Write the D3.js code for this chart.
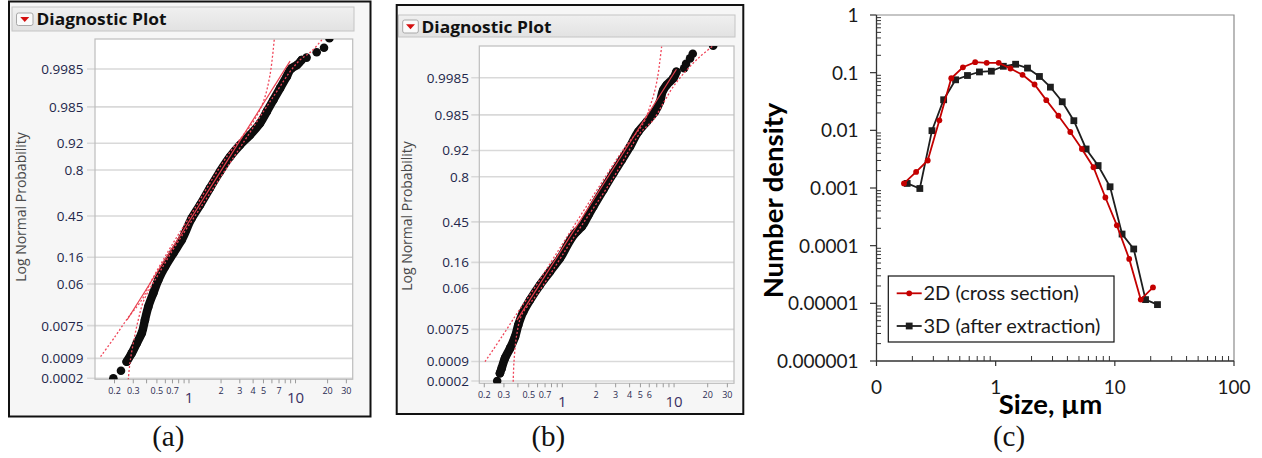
<!DOCTYPE html>
<html>
<head>
<meta charset="utf-8">
<script src="https://cdn.jsdelivr.net/npm/d3@7"></script>
<style>
  body { margin: 0; background: #fff; }
  svg { display: block; }
</style>
</head>
<body>
<svg id="fig" width="1262" height="458"></svg>
<script>
// ---------------- data ----------------
// probability-scale gridlines and size ticks shared by the two diagnostic plots
const probTicks = [0.0002, 0.0009, 0.0075, 0.06, 0.16, 0.45, 0.8, 0.92, 0.985, 0.9985];
const sizeMinorTicks = [0.2, 0.3, 0.4, 0.5, 0.6, 0.7, 0.8, 0.9, 1, 2, 3, 4, 5, 6, 7, 8, 9, 10, 20, 30];
const sizeLabelsA = [0.2, 0.3, 0.5, 0.7, 2, 3, 4, 5, 7, 20, 30];
const sizeLabelsB = [0.2, 0.3, 0.5, 0.7, 2, 3, 4, 5, 6, 20, 30];
const sizeDecadeLabels = [1, 10];

// (a) ordered particle sizes and their plotting probabilities
const sizeA = [0.195, 0.230, 0.260, 0.290, 0.323, 0.360, 0.386, 0.415, 0.462, 0.515, 0.596, 0.713, 0.854,
               1.06, 1.27, 1.57, 1.95, 2.43, 3.01, 3.74, 4.64, 5.37, 6.19, 7.15, 8.26, 9.2, 10.3, 11.4,
               12.7, 15.8, 18.5, 20.8];
const probA = [0.0002, 0.00036, 0.00071, 0.00129, 0.00252, 0.00476, 0.0104, 0.021, 0.040, 0.0705, 0.1166,
               0.1814, 0.2643, 0.4313, 0.5426, 0.6765, 0.790, 0.8693, 0.9145, 0.9429, 0.9661, 0.9808,
               0.98973, 0.9948, 0.99749, 0.99857, 0.99886, 0.99920, 0.99933, 0.99955, 0.99968, 0.99985];
// (a) lognormal fit and its confidence limits
const fitSizeA = [0.262, 8.88];
const fitProbA = [0.01036, 0.99914];
const loBandSizeA = [0.148, 0.202, 0.267, 0.360, 0.459, 0.692, 1.11, 1.75, 2.43, 3.24, 4.02, 4.99, 5.76, 6.32];
const loBandProbA = [0.00102, 0.00386, 0.0116, 0.0292, 0.0766, 0.2312, 0.50, 0.7698, 0.8892, 0.9429, 0.9685,
                     0.9887, 0.99776, 0.99984];
const hiBandSizeA = [0.269, 0.279, 0.300, 0.334, 0.378, 0.512, 0.755, 1.24, 2.04, 3.36, 4.99, 6.65, 8.87, 11.0,
                     14.2, 18.2];
const hiBandProbA = [0.000175, 0.00063, 0.00253, 0.01036, 0.0292, 0.0860, 0.2312, 0.50, 0.7698, 0.9298, 0.9808,
                     0.99361, 0.99820, 0.99920, 0.99959, 0.99985];

// (b) ordered particle sizes and their plotting probabilities
const sizeB = [0.261, 0.276, 0.286, 0.306, 0.340, 0.377, 0.403, 0.447, 0.513, 0.630, 0.774, 0.952, 1.34, 1.49,
               1.71, 1.89, 2.32, 2.86, 3.40, 4.03, 4.78, 5.69, 6.75, 7.48, 8.0, 8.59, 9.84, 10.5, 12.3, 12.8,
               13.9, 14.7, 22.4];
const probB = [0.0002, 0.00037, 0.00054, 0.00113, 0.00226, 0.0048, 0.00967, 0.0200, 0.0357, 0.0693, 0.116, 0.182,
               0.368, 0.4094, 0.508, 0.5793, 0.7116, 0.8204, 0.8853, 0.9315, 0.9648, 0.97853, 0.9874, 0.99292,
               0.99657, 0.99753, 0.99844, 0.99902, 0.99924, 0.99945, 0.99964, 0.99975, 0.99987];
// (b) lognormal fit and its confidence limits
const fitSizeB = [0.392, 10.5];
const fitProbB = [0.0128, 0.99918];
const loBandSizeB = [0.203, 0.294, 0.400, 0.535, 0.713, 1.055, 2.04, 3.49, 5.30, 6.08, 6.75, 7.22, 7.48, 7.74];
const loBandProbB = [0.000886, 0.00532, 0.0197, 0.0522, 0.1232, 0.3033, 0.7116, 0.9216, 0.97665, 0.99055,
                     0.99657, 0.99891, 0.99959, 0.99986];
const hiBandSizeB = [0.363, 0.369, 0.390, 0.432, 0.557, 0.675, 0.824, 1.22, 2.78, 4.95, 6.51, 8.0, 9.84, 12.97,
                     17.1, 22.4];
const hiBandProbB = [0.00019, 0.000886, 0.00534, 0.0168, 0.0387, 0.0693, 0.1232, 0.3033, 0.7803, 0.9621, 0.9803,
                     0.99222, 0.99724, 0.99913, 0.99969, 0.99987];

// (c) number density versus size
const seriesNames = ["2D (cross section)", "3D (after extraction)"];
const size2D = [0.17, 0.215, 0.269, 0.337, 0.424, 0.531, 0.673, 0.841, 1.06, 1.33, 1.68, 2.12, 2.66, 3.36, 4.23,
                5.29, 6.62, 8.33, 10.4, 13.2, 16.5, 20.9];
const dens2D = [0.0012, 0.0019, 0.0030, 0.0149, 0.080, 0.124, 0.152, 0.148, 0.148, 0.118, 0.0918, 0.0624, 0.0334,
                0.0179, 0.00936, 0.00475, 0.00229, 0.000685, 0.000225, 0.000059, 0.0000116, 0.0000189];
const size3D = [0.181, 0.231, 0.292, 0.366, 0.461, 0.580, 0.731, 0.920, 1.16, 1.47, 1.85, 2.33, 2.88, 3.62, 4.53,
                5.74, 7.24, 9.12, 11.5, 14.4, 18.1, 22.8];
const dens3D = [0.0012, 0.00098, 0.00987, 0.0339, 0.0752, 0.0893, 0.103, 0.106, 0.129, 0.140, 0.120, 0.0859,
                0.0561, 0.0313, 0.0147, 0.00475, 0.00245, 0.00105, 0.000159, 0.0000876, 0.0000116, 0.0000095];
const densTickValues = [1e-6, 1e-5, 1e-4, 1e-3, 1e-2, 1e-1, 1];
const densTickLabels = ["0.000001", "0.00001", "0.0001", "0.001", "0.01", "0.1", "1"];
const sizeTickValuesC = [0.1, 1, 10, 100];
const sizeTickLabelsC = ["0", "1", "10", "100"];

// ---------------- helpers ----------------
// inverse of the standard normal CDF (Acklam's rational approximation)
function probit(p) {
  const a = [-3.969683028665376e+01, 2.209460984245205e+02, -2.759285104469687e+02, 1.383577518672690e+02, -3.066479806614716e+01, 2.506628277459239e+00];
  const b = [-5.447609879822406e+01, 1.615858368580409e+02, -1.556989798598866e+02, 6.680131188771972e+01, -1.328068155288572e+01];
  const c = [-7.784894002430293e-03, -3.223964580411365e-01, -2.400758277161838e+00, -2.549732539343734e+00, 4.374664141464968e+00, 2.938163982698783e+00];
  const d = [7.784695709041462e-03, 3.224671290700398e-01, 2.445134137142996e+00, 3.754408661907416e+00];
  const pl = 0.02425;
  let q, r;
  if (p < pl) {
    q = Math.sqrt(-2 * Math.log(p));
    return (((((c[0]*q+c[1])*q+c[2])*q+c[3])*q+c[4])*q+c[5]) / ((((d[0]*q+d[1])*q+d[2])*q+d[3])*q+1);
  }
  if (p <= 1 - pl) {
    q = p - 0.5; r = q * q;
    return (((((a[0]*r+a[1])*r+a[2])*r+a[3])*r+a[4])*r+a[5])*q / (((((b[0]*r+b[1])*r+b[2])*r+b[3])*r+b[4])*r+1);
  }
  q = Math.sqrt(-2 * Math.log(1 - p));
  return -(((((c[0]*q+c[1])*q+c[2])*q+c[3])*q+c[4])*q+c[5]) / ((((d[0]*q+d[1])*q+d[2])*q+d[3])*q+1);
}

const svg = d3.select("#fig");
svg.append("rect").attr("width", 1262).attr("height", 458).attr("fill", "#fff");
const defs = svg.append("defs");

const JMP_FONT = "'Open Sans', 'Noto Sans', sans-serif";
const XL_FONT = "Lato, 'Open Sans', sans-serif";

// ---------------- JMP-style diagnostic plot ----------------
function diagnosticPlot(cfg) {
  const g = svg.append("g");
  const P = cfg.plot;

  // outer window frame
  g.append("rect").attr("x", cfg.frame.x).attr("y", cfg.frame.y)
    .attr("width", cfg.frame.w).attr("height", cfg.frame.h)
    .attr("fill", "#f6f6f6").attr("stroke", "#111").attr("stroke-width", 2);

  // outline header
  const gradId = "hdr" + cfg.id;
  const grad = defs.append("linearGradient").attr("id", gradId).attr("x1", 0).attr("y1", 0).attr("x2", 0).attr("y2", 1);
  grad.append("stop").attr("offset", 0).attr("stop-color", "#f0f0f0");
  grad.append("stop").attr("offset", 1).attr("stop-color", "#e2e2e2");
  g.append("rect").attr("x", cfg.header.x).attr("y", cfg.header.y)
    .attr("width", cfg.header.w).attr("height", cfg.header.h)
    .attr("fill", `url(#${gradId})`).attr("stroke", "#c4c4c4").attr("stroke-width", 1);
  const bt = cfg.button;
  g.append("rect").attr("x", bt.x).attr("y", bt.y).attr("width", bt.w).attr("height", bt.h)
    .attr("rx", 2).attr("fill", "#fafafa").attr("stroke", "#a8a8a8");
  const cx = bt.x + bt.w / 2, cy = bt.y + bt.h / 2;
  g.append("path").attr("d", `M${cx-4.5},${cy-2.2}L${cx+4.5},${cy-2.2}L${cx},${cy+2.8}Z`).attr("fill", "#d40f0f");
  g.append("text").attr("x", cfg.titleX).attr("y", cfg.titleY)
    .attr("font-family", JMP_FONT).attr("font-weight", 700).attr("font-size", 16.5)
    .attr("textLength", 130).attr("lengthAdjust", "spacingAndGlyphs")
    .attr("fill", "#111").text("Diagnostic Plot");

  // scales: log size across, normal quantile of probability up
  const x = d3.scaleLog().domain(cfg.xDomain).range([P.l, P.r]);
  const zScale = d3.scaleLinear().domain(cfg.zDomain).range([P.b, P.t]);
  const y = p => zScale(probit(p));

  g.append("rect").attr("x", P.l).attr("y", P.t).attr("width", P.r - P.l).attr("height", P.b - P.t)
    .attr("fill", "#fff");

  // horizontal gridlines with short ticks to the left
  g.append("g").selectAll("line").data(probTicks).join("line")
    .attr("x1", P.l - 8).attr("x2", P.r).attr("y1", d => y(d)).attr("y2", d => y(d))
    .attr("stroke", "#d9d9d9").attr("stroke-width", 1.6);
  g.append("g").selectAll("text").data(probTicks).join("text")
    .attr("x", cfg.yLabelX).attr("y", d => y(d)).attr("dy", "0.36em")
    .attr("text-anchor", "end").attr("font-family", JMP_FONT).attr("font-size", 13.5)
    .attr("fill", "#22264a").text(d => String(d));

  g.append("rect").attr("x", P.l).attr("y", P.t).attr("width", P.r - P.l).attr("height", P.b - P.t)
    .attr("fill", "none").attr("stroke", "#bdbdbd").attr("stroke-width", 1.2);

  // size axis ticks and labels
  g.append("g").selectAll("line").data(sizeMinorTicks).join("line")
    .attr("x1", d => x(d)).attr("x2", d => x(d)).attr("y1", P.b).attr("y2", P.b + 4)
    .attr("stroke", "#9a9a9a").attr("stroke-width", 1);
  g.append("g").selectAll("text").data(cfg.sizeLabels).join("text")
    .attr("x", d => x(d)).attr("y", cfg.smallLabelY).attr("text-anchor", "middle")
    .attr("font-family", JMP_FONT).attr("font-size", 9).attr("fill", "#2a2a50")
    .text(d => String(d));
  g.append("g").selectAll("text").data(sizeDecadeLabels).join("text")
    .attr("x", d => x(d)).attr("y", cfg.bigLabelY).attr("text-anchor", "middle")
    .attr("font-family", JMP_FONT).attr("font-size", 15).attr("fill", "#3a3062")
    .text(d => String(d));

  g.append("text")
    .attr("transform", `translate(${cfg.yTitle.x},${cfg.yTitle.y}) rotate(-90)`)
    .attr("text-anchor", "middle").attr("dy", "0.35em")
    .attr("font-family", JMP_FONT).attr("font-size", 14).attr("fill", "#4a4a4a")
    .text("Log Normal Probability");

  // plotted data, clipped to the frame
  const clipId = "clip" + cfg.id;
  defs.append("clipPath").attr("id", clipId).append("rect")
    .attr("x", P.l).attr("y", P.t).attr("width", P.r - P.l).attr("height", P.b - P.t);
  const inner = g.append("g").attr("clip-path", `url(#${clipId})`);

  const pts = cfg.sizes.map((s, i) => [x(s), y(cfg.probs[i])]);
  const dense = pts.slice(cfg.dense[0], cfg.dense[1] + 1);
  inner.append("path").attr("d", d3.line().curve(d3.curveMonotoneY)(dense.slice().sort((a, b) => b[1] - a[1])))
    .attr("fill", "none").attr("stroke", "#0d0d0d").attr("stroke-width", 8.5)
    .attr("stroke-linecap", "round").attr("stroke-linejoin", "round");
  inner.append("g").selectAll("circle").data(pts).join("circle")
    .attr("cx", d => d[0]).attr("cy", d => d[1]).attr("r", 4.3).attr("fill", "#0d0d0d");

  const bandLine = d3.line().curve(d3.curveCatmullRom.alpha(0.5));
  const lo = cfg.loSize.map((s, i) => [x(s), y(cfg.loProb[i])]);
  const hi = cfg.hiSize.map((s, i) => [x(s), y(cfg.hiProb[i])]);
  [lo, hi].forEach(b => inner.append("path").attr("d", bandLine(b))
    .attr("fill", "none").attr("stroke", "#f0465a").attr("stroke-width", 1.3)
    .attr("stroke-dasharray", "2,2"));
  const fit = cfg.fitSize.map((s, i) => [x(s), y(cfg.fitProb[i])]);
  inner.append("path").attr("d", d3.line()(fit))
    .attr("fill", "none").attr("stroke", "#e8404f").attr("stroke-width", 1.2);
}

diagnosticPlot({
  id: "a",
  frame: { x: 9, y: 1.5, w: 361.5, h: 415 },
  header: { x: 12, y: 7, w: 342, h: 24 },
  button: { x: 16.5, y: 13, w: 16.5, h: 12.5 },
  titleX: 36.5, titleY: 25,
  plot: { l: 95, t: 39, r: 352.7, b: 379.3 },
  xDomain: [0.1312, 34.4], zDomain: [-3.561, 3.599],
  yLabelX: 83.5, smallLabelY: 394, bigLabelY: 402.5,
  sizeLabels: sizeLabelsA, yTitle: { x: 21, y: 207 },
  sizes: sizeA, probs: probA, dense: [2, 27],
  fitSize: fitSizeA, fitProb: fitProbA,
  loSize: loBandSizeA, loProb: loBandProbA, hiSize: hiBandSizeA, hiProb: hiBandProbA
});

diagnosticPlot({
  id: "b",
  frame: { x: 396.7, y: 5, w: 346.6, h: 409 },
  header: { x: 398.5, y: 15, w: 336.5, h: 22 },
  button: { x: 402.7, y: 20, w: 15.6, h: 13 },
  titleX: 421.5, titleY: 32.5,
  plot: { l: 479.3, t: 46, r: 734, b: 383.3 },
  xDomain: [0.1805, 34.4], zDomain: [-3.589, 3.648],
  yLabelX: 469, smallLabelY: 397.6, bigLabelY: 406.7,
  sizeLabels: sizeLabelsB, yTitle: { x: 406.7, y: 216 },
  sizes: sizeB, probs: probB, dense: [1, 27],
  fitSize: fitSizeB, fitProb: fitProbB,
  loSize: loBandSizeB, loProb: loBandProbB, hiSize: hiBandSizeB, hiProb: hiBandProbB
});

// ---------------- (c) number density ----------------
(function () {
  const L = 876.5, R = 1234, T = 15, B = 361;
  const x = d3.scaleLog().domain([0.1, 100]).range([L, R]);
  const y = d3.scaleLog().domain([1e-6, 1]).range([B, T]);
  const g = svg.append("g");

  g.append("path").attr("d", `M${L},${T}H${R}V${B}`).attr("fill", "none")
    .attr("stroke", "#8c8c8c").attr("stroke-width", 1.2);

  const decades = d3.range(-6, 0);
  const minorY = [];
  decades.forEach(e => { for (let k = 2; k <= 9; k++) minorY.push(k * Math.pow(10, e)); });
  const minorX = [];
  [-1, 0, 1].forEach(e => { for (let k = 2; k <= 9; k++) minorX.push(k * Math.pow(10, e)); });

  const axisCol = "#333";
  g.append("g").selectAll("line").data(minorY).join("line")
    .attr("x1", L).attr("x2", L + 4.5).attr("y1", d => y(d)).attr("y2", d => y(d))
    .attr("stroke", axisCol).attr("stroke-width", 1);
  g.append("g").selectAll("line").data(densTickValues).join("line")
    .attr("x1", L - 6.5).attr("x2", L).attr("y1", d => y(d)).attr("y2", d => y(d))
    .attr("stroke", axisCol).attr("stroke-width", 1.2);
  g.append("g").selectAll("line").data(minorX).join("line")
    .attr("x1", d => x(d)).attr("x2", d => x(d)).attr("y1", B - 5).attr("y2", B)
    .attr("stroke", axisCol).attr("stroke-width", 1);
  g.append("g").selectAll("line").data(sizeTickValuesC).join("line")
    .attr("x1", d => x(d)).attr("x2", d => x(d)).attr("y1", B).attr("y2", B + 5)
    .attr("stroke", axisCol).attr("stroke-width", 1.2);
  g.append("path").attr("d", `M${L},${T}V${B}H${R}`).attr("fill", "none")
    .attr("stroke", axisCol).attr("stroke-width", 1.3);

  g.append("g").selectAll("text").data(densTickValues).join("text")
    .attr("x", 858.5).attr("y", d => y(d)).attr("dy", "0.36em").attr("text-anchor", "end")
    .attr("font-family", XL_FONT).attr("font-size", 19).attr("fill", "#1a1a1a")
    .text((d, i) => densTickLabels[i]);
  g.append("g").selectAll("text").data(sizeTickValuesC).join("text")
    .attr("x", d => x(d)).attr("y", 393.5).attr("text-anchor", "middle")
    .attr("font-family", XL_FONT).attr("font-size", 19).attr("fill", "#1a1a1a")
    .text((d, i) => sizeTickLabelsC[i]);

  g.append("text").attr("transform", "translate(773,200.5) rotate(-90)")
    .attr("text-anchor", "middle").attr("dy", "0.35em")
    .attr("font-family", XL_FONT).attr("font-weight", 700).attr("font-size", 27.5)
    .attr("fill", "#000").text("Number density");
  g.append("text").attr("x", 1050.5).attr("y", 413.5).attr("text-anchor", "middle")
    .attr("font-family", XL_FONT).attr("font-weight", 700).attr("font-size", 27.5)
    .attr("fill", "#000").text("Size, µm");

  const line = d3.line().x(d => x(d[0])).y(d => y(d[1]));
  const red = "#c40000", black = "#1e1e1e";
  const d2 = size2D.map((s, i) => [s, dens2D[i]]);
  const d3d = size3D.map((s, i) => [s, dens3D[i]]);

  g.append("path").attr("d", line(d3d)).attr("fill", "none").attr("stroke", black).attr("stroke-width", 1.8);
  g.append("g").selectAll("rect").data(d3d).join("rect")
    .attr("x", d => x(d[0]) - 3.4).attr("y", d => y(d[1]) - 3.4).attr("width", 6.8).attr("height", 6.8)
    .attr("fill", black);
  g.append("path").attr("d", line(d2)).attr("fill", "none").attr("stroke", red).attr("stroke-width", 1.8);
  g.append("g").selectAll("circle").data(d2).join("circle")
    .attr("cx", d => x(d[0])).attr("cy", d => y(d[1])).attr("r", 2.9).attr("fill", red);

  // legend
  const lg = g.append("g");
  lg.append("rect").attr("x", 888.3).attr("y", 276).attr("width", 225.7).attr("height", 66)
    .attr("fill", "#fff").attr("stroke", "#111").attr("stroke-width", 1.2);
  const rows = [{ y: 293.3, col: red, shape: "circle" }, { y: 326, col: black, shape: "square" }];
  rows.forEach((r, i) => {
    lg.append("line").attr("x1", 896.7).attr("x2", 921.7).attr("y1", r.y).attr("y2", r.y)
      .attr("stroke", r.col).attr("stroke-width", 1.8);
    if (r.shape === "circle") {
      lg.append("circle").attr("cx", 909.2).attr("cy", r.y).attr("r", 2.9).attr("fill", r.col);
    } else {
      lg.append("rect").attr("x", 905.8).attr("y", r.y - 3.4).attr("width", 6.8).attr("height", 6.8).attr("fill", r.col);
    }
    lg.append("text").attr("x", 923.5).attr("y", r.y).attr("dy", "0.35em")
      .attr("font-family", XL_FONT).attr("font-size", 20).attr("fill", "#1a1a1a")
      .text(seriesNames[i]);
  });
})();

// ---------------- panel captions ----------------
const captions = [{ t: "(a)", x: 168.3 }, { t: "(b)", x: 548.3 }, { t: "(c)", x: 1009 }];
svg.append("g").selectAll("text").data(captions).join("text")
  .attr("x", d => d.x).attr("y", 446).attr("text-anchor", "middle")
  .attr("font-family", "'Liberation Serif', 'DejaVu Serif', serif").attr("font-size", 29)
  .attr("fill", "#111").text(d => d.t);
</script>
</body>
</html>
